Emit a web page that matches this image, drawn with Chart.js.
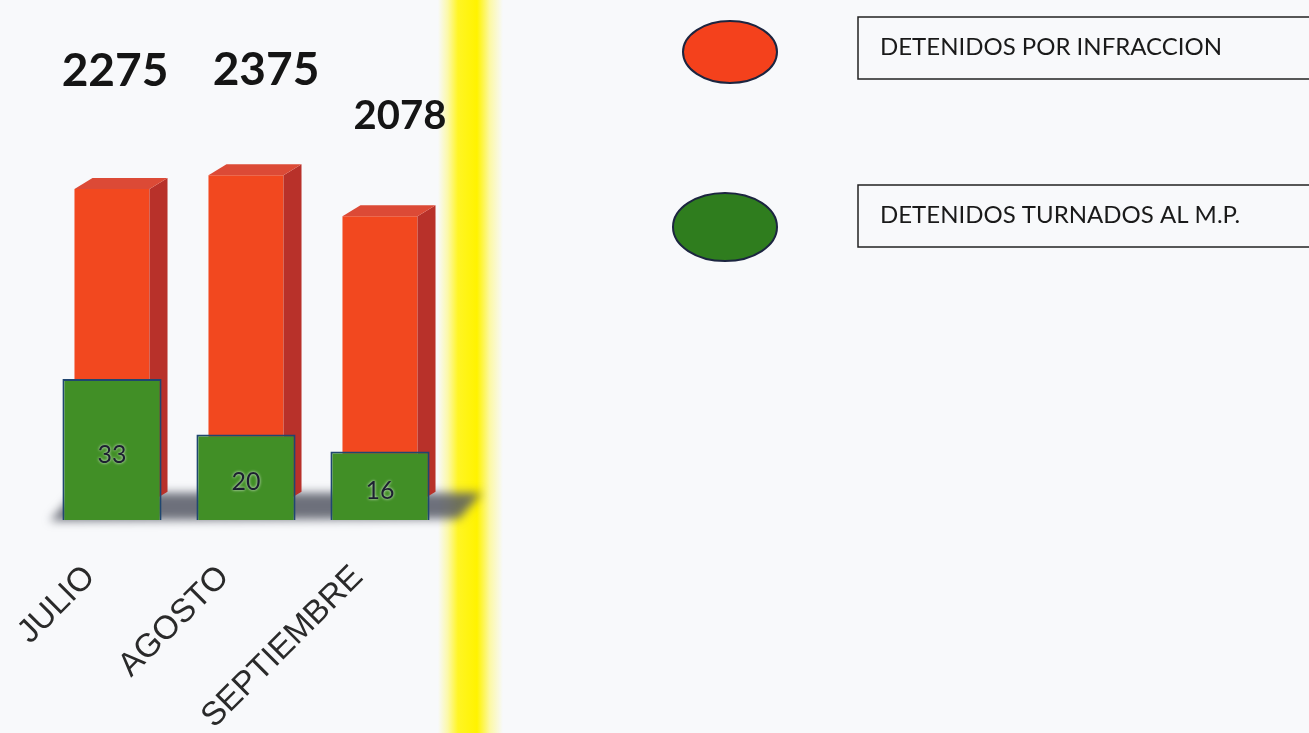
<!DOCTYPE html>
<html>
<head>
<meta charset="utf-8">
<script src="https://cdn.jsdelivr.net/npm/chart.js@4.4.1/dist/chart.umd.min.js"></script>
<style>
    body { margin: 0; background: #f8f9fb; }
    #wrap {
        position: relative; width: 1309px; height: 733px;
        background: linear-gradient(to right, rgba(255,255,255,0) 438px, rgba(255,248,110,0.6) 448px, #fff524 458px, #fff300 477px, rgba(255,248,110,0.6) 490px, rgba(255,255,255,0) 503px);
    }
</style>
</head>
<body>
<div id="wrap"><canvas id="detenidosChart"></canvas></div>
<script>
// datos del grafico
const meses = ['JULIO', 'AGOSTO', 'SEPTIEMBRE'];
const infraccion = [2275, 2375, 2078];
const turnadosMP = [33, 20, 16];
const etiquetas = ['DETENIDOS POR INFRACCION', 'DETENIDOS TURNADOS AL M.P.'];

const rojo = '#f2481f';
const verde = '#418f26';

// sombra gris debajo de las barras
const sombraPlugin = {
    id: 'sombra',
    beforeDatasetsDraw(chart) {
        const ctx = chart.ctx;
        const a = chart.chartArea;
        const base = chart.scales.y.getPixelForValue(0);
        ctx.save();
        ctx.filter = 'blur(5px)';
        ctx.fillStyle = 'rgba(85,88,100,0.85)';
        ctx.beginPath();
        ctx.moveTo(a.left + 5, base + 18);
        ctx.lineTo(a.left + 30, base - 10);
        ctx.lineTo(a.right + 35, base - 10);
        ctx.lineTo(a.right + 12, base + 16);
        ctx.closePath();
        ctx.fill();
        ctx.restore();
    }
};

// caras laterales y superiores de las barras rojas (efecto 3D)
const cara3dPlugin = {
    id: 'cara3d',
    afterDatasetDraw(chart, args) {
        if (args.index !== 0) return;
        const ctx = chart.ctx;
        const dx = 18, dy = 11;
        args.meta.data.forEach(bar => {
            const p = bar.getProps(['x', 'y', 'base', 'width'], true);
            const l = p.x - p.width / 2, r = p.x + p.width / 2;
            ctx.save();
            ctx.fillStyle = '#b8312a';
            ctx.beginPath();
            ctx.moveTo(r, p.y);
            ctx.lineTo(r + dx, p.y - dy);
            ctx.lineTo(r + dx, p.base - dy);
            ctx.lineTo(r, p.base);
            ctx.closePath();
            ctx.fill();
            ctx.fillStyle = '#dc4a36';
            ctx.beginPath();
            ctx.moveTo(l, p.y);
            ctx.lineTo(l + dx, p.y - dy);
            ctx.lineTo(r + dx, p.y - dy);
            ctx.lineTo(r, p.y);
            ctx.closePath();
            ctx.fill();
            ctx.restore();
        });
    }
};

// valores encima de las barras rojas y dentro de las verdes
const valoresPlugin = {
    id: 'valores',
    afterDatasetsDraw(chart) {
        const ctx = chart.ctx;
        const tam = [46, 46, 40];      // tamaño de letra de cada valor
        const despX = [3, 20, 20];     // desplazamiento horizontal
        const altura = [103, 90, 87];  // distancia sobre la barra
        ctx.save();
        ctx.textAlign = 'center';
        ctx.fillStyle = '#151515';
        chart.getDatasetMeta(0).data.forEach((bar, i) => {
            ctx.font = 'bold ' + tam[i] + 'px Lato';
            ctx.fillText(chart.data.datasets[0].data[i], bar.x + despX[i], bar.y - altura[i]);
        });
        ctx.font = '25px Lato';
        ctx.textBaseline = 'middle';
        ctx.shadowColor = 'rgba(255,255,255,0.9)';
        ctx.shadowBlur = 3;
        ctx.fillStyle = '#1c2030';
        chart.getDatasetMeta(1).data.forEach((bar, i) => {
            ctx.fillText(chart.data.datasets[1].data[i], bar.x, (bar.y + bar.base) / 2 + 5);
        });
        ctx.restore();
    }
};

// leyenda a la derecha
const leyendaPlugin = {
    id: 'leyenda',
    afterDraw(chart) {
        const ctx = chart.ctx;
        const filas = [
            { cx: 730, cy: 52, rx: 47, ry: 31, top: 17 },
            { cx: 725, cy: 227, rx: 52, ry: 34, top: 185 }
        ];
        ctx.save();
        chart.data.datasets.forEach((ds, i) => {
            const f = filas[i];
            ctx.beginPath();
            ctx.ellipse(f.cx, f.cy, f.rx, f.ry, 0, 0, Math.PI * 2);
            ctx.fillStyle = ds.legendColor;
            ctx.fill();
            ctx.lineWidth = 2;
            ctx.strokeStyle = '#1c2540';
            ctx.stroke();

            ctx.lineWidth = 1.5;
            ctx.strokeStyle = '#222';
            ctx.strokeRect(858, f.top, 470, 62);
            ctx.fillStyle = '#1a1a1a';
            ctx.font = '24px Lato';
            ctx.textBaseline = 'middle';
            ctx.textAlign = 'left';
            ctx.fillText(ds.label, 880, f.top + 30);
        });
        ctx.restore();
    }
};

const ctx = document.getElementById('detenidosChart').getContext('2d');
const detenidosChart = new Chart(ctx, {
    type: 'bar',
    data: {
        labels: meses,
        datasets: [{
            label: etiquetas[0],
            data: infraccion,
            backgroundColor: rojo,
            legendColor: '#f4411c',
            yAxisID: 'y',
            order: 2,
            barPercentage: 0.56,
            categoryPercentage: 1
        }, {
            label: etiquetas[1],
            data: turnadosMP,
            backgroundColor: verde,
            legendColor: '#2f7d1e',
            borderColor: '#1f4670',
            borderWidth: 2,
            yAxisID: 'y2',
            order: 1,
            barPercentage: 0.74,
            categoryPercentage: 1
        }]
    },
    options: {
        responsive: true,
        maintainAspectRatio: false,
        animation: false,
        layout: { padding: { left: 45, right: 862, top: 20, bottom: 0 } },
        plugins: {
            legend: { display: false },
            tooltip: { enabled: false }
        },
        datasets: { bar: { grouped: false } },
        scales: {
            x: {
                offset: true,
                grid: { display: false },
                border: { display: false },
                ticks: {
                    minRotation: 45,
                    maxRotation: 45,
                    padding: 30,
                    labelOffset: -22,
                    color: '#2a2a2a',
                    font: { family: 'Liberation Sans', size: 33 }
                },
                afterFit(scale) { scale.height = 213; }
            },
            y: { display: false, min: -125, max: 3500 },
            y2: { display: false, position: 'right', min: 0, max: 117 }
        }
    },
    plugins: [sombraPlugin, cara3dPlugin, valoresPlugin, leyendaPlugin]
});
</script>
</body>
</html>
